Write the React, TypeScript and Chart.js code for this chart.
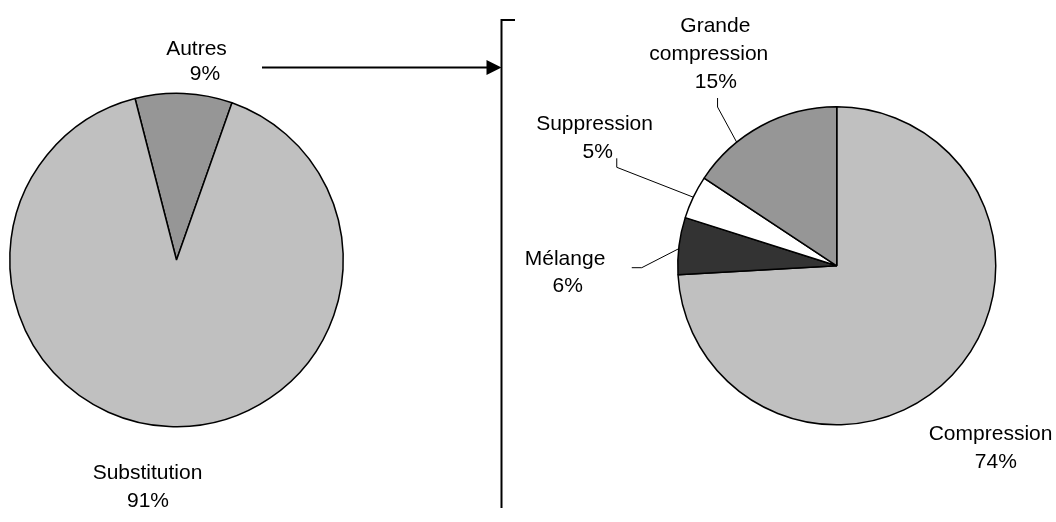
import React, { useEffect, useRef } from "react";
import { Chart, registerables } from "chart.js";

Chart.register(...registerables);

// ---- Data ----
const leftCategories = ["Autres", "Substitution"];
const leftValues = [9.4, 90.6];
const leftPercentLabels = ["9%", "91%"];

const rightCategories = ["Compression", "Mélange", "Suppression", "Grande compression"];
const rightValues = [74.1, 5.8, 4.4, 15.7];
const rightPercentLabels = ["74%", "6%", "5%", "15%"];

// ---- Styles ----
const leftColors = ["#969696", "#c0c0c0"];
const rightColors = ["#c0c0c0", "#333333", "#ffffff", "#969696"];
const FONT = "21px 'Liberation Sans', Arial, sans-serif";
const W = 1056;
const H = 522;

type LabelLayout = {
  lines: string[]; // name lines (percent appended)
  pos: [number, number][]; // per line center x, baseline y offsets from pie centre
  leader?: [number, number][]; // polyline offsets from pie centre, final point goes to arc
  attach?: number; // fraction within slice for leader attach
};

const leftLayout: LabelLayout[] = [
  { lines: ["Autres"], pos: [[20, -205], [28.5, -180]] },
  { lines: ["Substitution"], pos: [[-29, 219.3], [-28.5, 247.3]] },
];

const rightLayout: LabelLayout[] = [
  { lines: ["Compression"], pos: [[153.8, 174.2], [159.1, 202.5]] },
  {
    lines: ["Mélange"],
    pos: [[-271.7, -0.8], [-269, 25.9]],
    leader: [[-205, 1.9], [-195, 1.9]],
    attach: 0.45,
  },
  {
    lines: ["Suppression"],
    pos: [[-242.2, -135.8], [-239, -108.1]],
    leader: [[-220, -107.5], [-220, -98.5]],
    attach: 0.5,
  },
  {
    lines: ["Grande", "compression"],
    pos: [[-121.4, -234.1], [-128, -205.8], [-120.9, -177.5]],
    leader: [[-119.2, -167.8], [-119.2, -158.8]],
    attach: 0.31,
  },
];

function makeLabelPlugin(layout: LabelLayout[], pcts: string[]) {
  return {
    id: "sliceLabels",
    afterDraw(chart: any) {
      const ctx = chart.ctx;
      const meta = chart.getDatasetMeta(0);
      ctx.save();
      ctx.font = FONT;
      ctx.fillStyle = "#000";
      ctx.textAlign = "center";
      ctx.textBaseline = "alphabetic";
      meta.data.forEach((arc: any, i: number) => {
        const L = layout[i];
        if (!L) return;
        const { x, y, startAngle, endAngle, outerRadius } = arc.getProps(
          ["x", "y", "startAngle", "endAngle", "outerRadius"],
          true
        );
        const lines = [...L.lines, pcts[i]];
        lines.forEach((t, k) => {
          const p = L.pos[k];
          ctx.fillText(t, x + p[0], y + p[1]);
        });
        if (L.leader) {
          const a = startAngle + (endAngle - startAngle) * (L.attach ?? 0.5);
          ctx.beginPath();
          ctx.strokeStyle = "#000";
          ctx.lineWidth = 1;
          L.leader.forEach((p, k) => {
            if (k === 0) ctx.moveTo(x + p[0], y + p[1]);
            else ctx.lineTo(x + p[0], y + p[1]);
          });
          ctx.lineTo(x + Math.cos(a) * outerRadius, y + Math.sin(a) * outerRadius);
          ctx.stroke();
        }
      });
      ctx.restore();
    },
  };
}

const decorPlugin = {
  id: "decor",
  afterDraw(chart: any) {
    const ctx = chart.ctx;
    ctx.save();
    ctx.strokeStyle = "#000";
    ctx.fillStyle = "#000";
    ctx.lineWidth = 2;
    // arrow
    ctx.beginPath();
    ctx.moveTo(262, 67.5);
    ctx.lineTo(488, 67.5);
    ctx.stroke();
    ctx.beginPath();
    ctx.moveTo(486.5, 60);
    ctx.lineTo(501.5, 67.5);
    ctx.lineTo(486.5, 75);
    ctx.closePath();
    ctx.fill();
    // bracket
    ctx.beginPath();
    ctx.moveTo(515, 20);
    ctx.lineTo(501.5, 20);
    ctx.lineTo(501.5, 508);
    ctx.stroke();
    ctx.restore();
  },
};

function baseOptions(padding: any) {
  return {
    responsive: false,
    animation: false as const,
    layout: { padding },
    plugins: {
      legend: { display: false },
      tooltip: { enabled: false },
      title: { display: false },
    },
    events: [],
  };
}

export default function App() {
  const leftRef = useRef<HTMLCanvasElement>(null);
  const rightRef = useRef<HTMLCanvasElement>(null);

  useEffect(() => {
    document.body.style.margin = "0";
    const left = new Chart(leftRef.current!, {
      type: "pie",
      data: {
        labels: leftCategories,
        datasets: [
          {
            data: leftValues,
            backgroundColor: leftColors,
            borderColor: "#000",
            borderWidth: 1.5,
          },
        ],
      },
      options: {
        ...baseOptions({ left: 9, right: 712, top: 92.5, bottom: 94.5 }),
        rotation: -14.4,
      } as any,
      plugins: [makeLabelPlugin(leftLayout, leftPercentLabels), decorPlugin],
    });
    const right = new Chart(rightRef.current!, {
      type: "pie",
      data: {
        labels: rightCategories,
        datasets: [
          {
            data: rightValues,
            backgroundColor: rightColors,
            borderColor: "#000",
            borderWidth: 1.5,
          },
        ],
      },
      options: {
        ...baseOptions({ left: 677, right: 59.5, top: 106, bottom: 96.4 }),
        rotation: 0,
      } as any,
      plugins: [makeLabelPlugin(rightLayout, rightPercentLabels)],
    });
    return () => {
      left.destroy();
      right.destroy();
    };
  }, []);

  return (
    <div style={{ position: "relative", width: W, height: H, background: "#fff" }}>
      <canvas
        ref={leftRef}
        width={W}
        height={H}
        style={{ position: "absolute", left: 0, top: 0 }}
      />
      <canvas
        ref={rightRef}
        width={W}
        height={H}
        style={{ position: "absolute", left: 0, top: 0 }}
      />
    </div>
  );
}
